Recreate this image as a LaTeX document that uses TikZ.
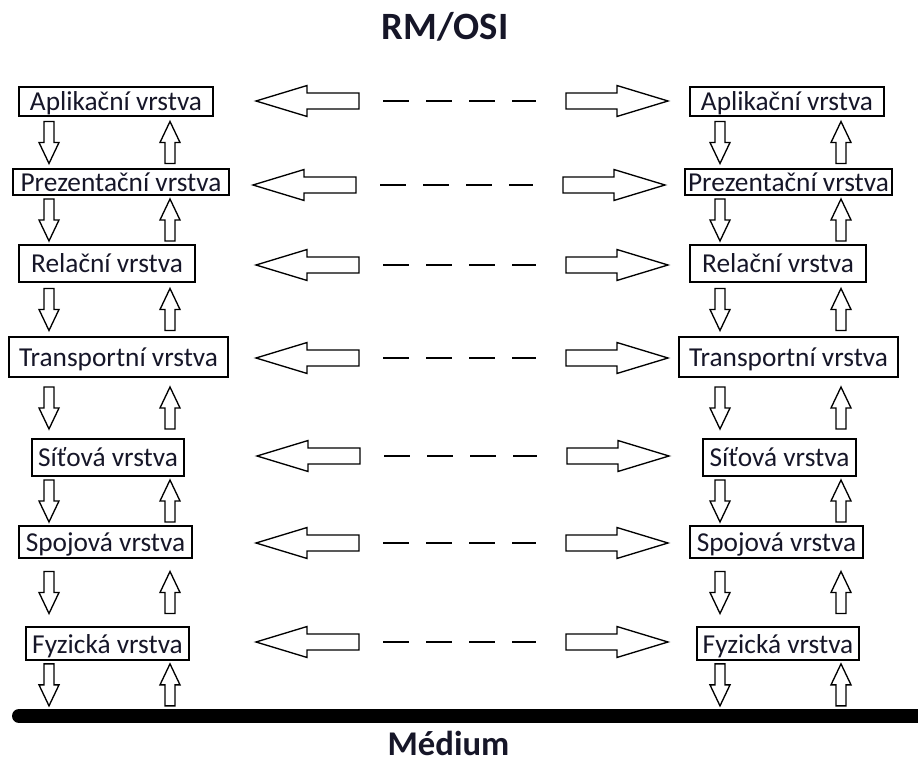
\documentclass[tikz,border=0pt]{standalone}
\usepackage{fontspec}
\setmainfont{Carlito}
\usetikzlibrary{calc}
\definecolor{ink}{RGB}{22,22,40}
\begin{document}
\begin{tikzpicture}[x=0.75pt,y=-0.75pt,
  layerbox/.style 2 args={draw=black, line width=1.1pt, inner sep=0pt,
    minimum width=#1*0.75pt, minimum height=#2*0.75pt,
    text=ink, font=\fontsize{20.5}{24}\selectfont,
    text height=14.5pt, text depth=0.25pt},
  % hollow block arrow between two layers, centred in the gap, fixed length
  vblk/.style={line width=1pt, to path={let \p1=(\tikztostart), \p2=(\tikztotarget),
      \p3=($(\p1)!.5!(\p2)$), \n1={(\y2-\y1)/abs(\y2-\y1)} in
      (\x1-3.75pt,{\y3-(\n1)*15.75pt}) -- (\x1+3.75pt,{\y3-(\n1)*15.75pt})
      -- (\x1+3.75pt,\y3) -- (\x1+7.5pt,\y3) -- (\x1,{\y3+(\n1)*15.75pt})
      -- (\x1-7.5pt,\y3) -- (\x1-3.75pt,\y3) -- cycle}},
  % hollow block arrow from tail to tip, horizontal
  hblk/.style={line width=1pt, to path={let \p1=(\tikztostart), \p2=(\tikztotarget),
      \n1={(\x2-\x1)/abs(\x2-\x1)} in
      (\x1,\y1+6pt) -- ({\x2-(\n1)*38.25pt},\y1+6pt) -- ({\x2-(\n1)*38.25pt},\y1+11.6pt)
      -- (\x2,\y1) -- ({\x2-(\n1)*38.25pt},\y1-11.6pt) -- ({\x2-(\n1)*38.25pt},\y1-6pt)
      -- (\x1,\y1-6pt) -- cycle}},
  peer/.style={line width=1.4pt, dash pattern=on 19.5pt off 12.75pt},
  heading/.style={anchor=base, text=ink, font=\bfseries}
]
\useasboundingbox (0,0) rectangle (918,762);

% column guides
\coordinate (dnL) at (49,0);
\coordinate (upL) at (170,0);
\coordinate (dnR) at (720,0);
\coordinate (upR) at (841,0);
\coordinate (tipL) at (256,0);
\coordinate (tailL) at (359,0);
\coordinate (dashA) at (383,0);
\coordinate (dashB) at (536,0);
\coordinate (tailR) at (566,0);
\coordinate (tipR) at (668,0);

% left stack
\node[layerbox={194}{29}] (L1) at (116,101.5) {Aplikační vrstva};
\node[layerbox={216}{26}] (L2) at (121,182) {Prezentační vrstva};
\node[layerbox={176}{37}] (L3) at (107,263.5) {Relační vrstva};
\node[layerbox={219}{40}] (L4) at (118.5,357) {Transportní vrstva};
\node[layerbox={152}{37}] (L5) at (108,457.5) {Síťová vrstva};
\node[layerbox={173}{32}] (L6) at (105.5,542) {Spojová vrstva};
\node[layerbox={163}{33}] (L7) at (107.5,643.5) {Fyzická vrstva};

% right stack
\node[layerbox={194}{29}] (R1) at (787,101.5) {Aplikační vrstva};
\node[layerbox={207}{26}] (R2) at (788.5,182) {Prezentační vrstva};
\node[layerbox={176}{37}] (R3) at (778,263.5) {Relační vrstva};
\node[layerbox={219}{40}] (R4) at (788.5,357) {Transportní vrstva};
\node[layerbox={153}{37}] (R5) at (779.5,457.5) {Síťová vrstva};
\node[layerbox={173}{32}] (R6) at (776.5,542) {Spojová vrstva};
\node[layerbox={162}{33}] (R7) at (778,643.5) {Fyzická vrstva};

% titles
\node[heading, font=\fontsize{29}{34}\bfseries] (title) at (445,40) {RM/OSI};
\node[heading, font=\fontsize{26}{31}\bfseries] (medium) at (448.5,755) {Médium};

% transmission medium
\coordinate (medL) at (19,716);
\coordinate (medR) at (925,716);
\coordinate (medTop) at (0,709);
\draw[line width=10.5pt, line cap=round] (medL) -- (medR);

% data flow down and up through each stack
\foreach \a/\b in {1/2,2/3,3/4,4/5,5/6,6/7}{
  \draw[vblk] (L\a.south -| dnL) to (L\b.north -| dnL);
  \draw[vblk] (L\b.north -| upL) to (L\a.south -| upL);
  \draw[vblk] (R\a.south -| dnR) to (R\b.north -| dnR);
  \draw[vblk] (R\b.north -| upR) to (R\a.south -| upR);
}
\draw[vblk] (L7.south -| dnL) to (medTop -| dnL);
\draw[vblk] (medTop -| upL) to (L7.south -| upL);
\draw[vblk] (R7.south -| dnR) to (medTop -| dnR);
\draw[vblk] (medTop -| upR) to (R7.south -| upR);

% peer-to-peer links between equal layers
\foreach \i/\dx/\dy in {1/0/-0.5,2/-3/3,3/0/1.5,4/0/1,5/1/-1.5,6/0/1,7/0/-1.5}{
  \draw[hblk] ($(L\i -| tailL)+(\dx,\dy)$) to ($(L\i -| tipL)+(\dx,\dy)$);
  \draw[peer] ($(L\i -| dashA)+(\dx,\dy)$) -- ($(R\i -| dashB)+(\dx,\dy)$);
  \draw[hblk] ($(R\i -| tailR)+(\dx,\dy)$) to ($(R\i -| tipR)+(\dx,\dy)$);
}
\end{tikzpicture}
\end{document}
